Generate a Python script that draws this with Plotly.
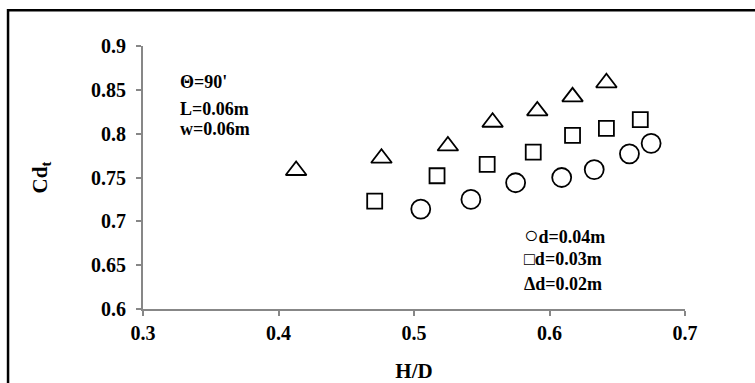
import plotly.graph_objects as go

# Data
hd_d004 = [0.505, 0.542, 0.575, 0.609, 0.633, 0.659, 0.675]
cd_d004 = [0.714, 0.725, 0.744, 0.750, 0.759, 0.777, 0.789]

hd_d003 = [0.471, 0.517, 0.554, 0.588, 0.617, 0.642, 0.667]
cd_d003 = [0.723, 0.752, 0.765, 0.779, 0.798, 0.806, 0.816]

hd_d002 = [0.413, 0.476, 0.525, 0.558, 0.591, 0.617, 0.642]
cd_d002 = [0.758, 0.772, 0.786, 0.813, 0.826, 0.842, 0.858]

series_names = ["d=0.04m", "d=0.03m", "d=0.02m"]
legend_glyphs = ["<span style='font-size:24px'>○</span>", "□", "Δ"]
info_lines = ["Θ=90'", "L=0.06m", "w=0.06m"]

x_ticks = [0.3, 0.4, 0.5, 0.6, 0.7]
y_ticks = [0.6, 0.65, 0.7, 0.75, 0.8, 0.85, 0.9]

FONT = "Liberation Serif"
AX = "#878787"

fig = go.Figure()
fig.add_trace(go.Scatter(x=hd_d004, y=cd_d004, mode="markers", name=series_names[0],
                         marker=dict(symbol="circle-open", size=19, color="black",
                                     line=dict(width=1.8, color="black"))))
fig.add_trace(go.Scatter(x=hd_d003, y=cd_d003, mode="markers", name=series_names[1],
                         marker=dict(symbol="square-open", size=15, color="black",
                                     line=dict(width=1.8, color="black"))))
fig.add_trace(go.Scatter(x=hd_d002, y=cd_d002, mode="markers", name=series_names[2],
                         marker=dict(symbol="triangle-up-open", size=18, color="black",
                                     line=dict(width=1.8, color="black"))))

annotations = []
info_y = [0.859, 0.828, 0.805]
for t, yy in zip(info_lines, info_y):
    annotations.append(dict(x=0.3255, y=yy, xref="x", yref="y", text="<b>" + t + "</b>",
                            showarrow=False, xanchor="left", yanchor="middle",
                            font=dict(family=FONT, size=18, color="black")))
leg_y = [0.684, 0.657, 0.6285]
for g, n, yy in zip(legend_glyphs, series_names, leg_y):
    annotations.append(dict(x=0.5797, y=yy, xref="x", yref="y", text="<b>" + g + n + "</b>",
                            showarrow=False, xanchor="left", yanchor="middle",
                            font=dict(family=FONT, size=18, color="black")))

fig.update_layout(
    width=755, height=383,
    margin=dict(l=143, r=70, t=46, b=74),
    paper_bgcolor="white", plot_bgcolor="white",
    showlegend=False,
    annotations=annotations,
    shapes=[dict(type="rect", xref="paper", yref="paper",
                 x0=-0.249, x1=1.3, y0=-0.6, y1=1.136,
                 line=dict(color="black", width=2.5), fillcolor="rgba(0,0,0,0)", layer="above")],
    xaxis=dict(range=[0.3, 0.7], tickvals=x_ticks, ticktext=[f"<b>{v:g}</b>" for v in x_ticks],
               automargin=False,
               showgrid=False, zeroline=False, showline=True, linecolor=AX, linewidth=2,
               ticks="outside", ticklen=5, tickwidth=1.5, tickcolor=AX,
               tickfont=dict(family=FONT, size=20, color="black"),
               title=dict(text="<b>H/D</b>", standoff=22,
                          font=dict(family=FONT, size=21, color="black"))),
    yaxis=dict(range=[0.6, 0.9], tickvals=y_ticks, ticktext=[f"<b>{v:g}</b>" for v in y_ticks],
               automargin=False, ticklabelstandoff=6,
               showgrid=False, zeroline=False, showline=True, linecolor=AX, linewidth=2,
               ticks="outside", ticklen=5, tickwidth=1.5, tickcolor=AX,
               tickfont=dict(family=FONT, size=20, color="black"),
               title=dict(text="<b>Cd<sub>t</sub></b>", standoff=38,
                          font=dict(family=FONT, size=21, color="black"))),
)

fig.write_html("out.html")
